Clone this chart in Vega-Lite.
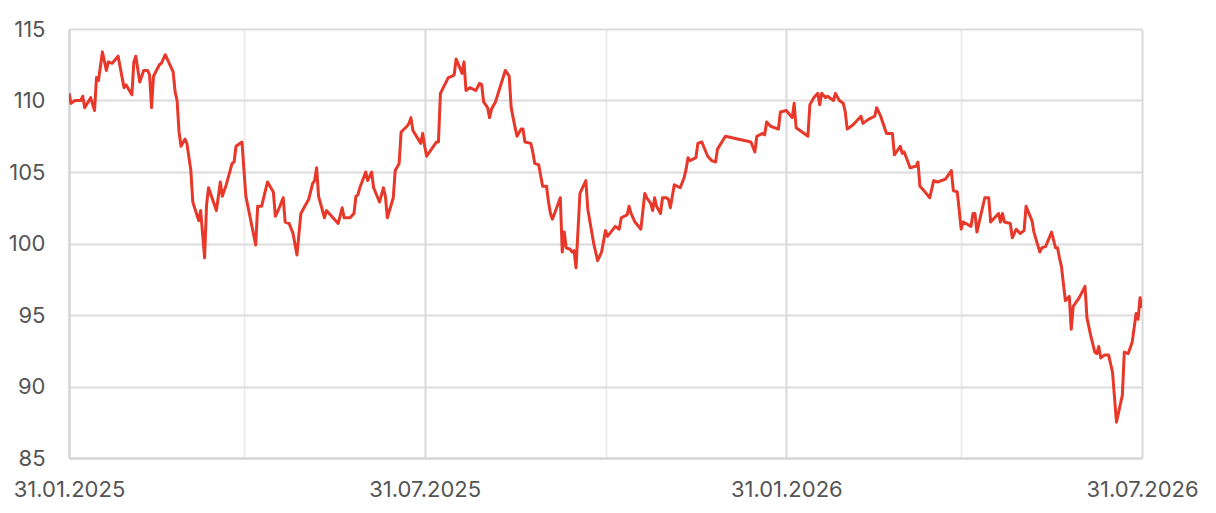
{
  "$schema": "https://vega.github.io/schema/vega-lite/v6.json",
  "width": 1073,
  "height": 429,
  "autosize": "none",
  "padding": {"left": 69, "top": 29, "right": 74, "bottom": 55},
  "background": "white",
  "config": {"view": {"stroke": null}},
  "data": {"values": [
    {"date":"2025-01-31","value":110.5},{"date":"2025-02-01","value":109.8},{"date":"2025-02-03","value":110.0},{"date":"2025-02-06","value":110.0},{"date":"2025-02-07","value":110.3},{"date":"2025-02-08","value":109.5},{"date":"2025-02-11","value":110.2},{"date":"2025-02-13","value":109.3},{"date":"2025-02-14","value":111.6},{"date":"2025-02-15","value":111.4},{"date":"2025-02-17","value":113.4},{"date":"2025-02-19","value":112.1},{"date":"2025-02-20","value":112.7},{"date":"2025-02-22","value":112.6},{"date":"2025-02-25","value":113.1},{"date":"2025-02-28","value":110.9},{"date":"2025-03-01","value":111.1},{"date":"2025-03-04","value":110.4},{"date":"2025-03-05","value":112.7},{"date":"2025-03-06","value":113.1},{"date":"2025-03-08","value":111.3},{"date":"2025-03-10","value":112.1},{"date":"2025-03-12","value":112.1},{"date":"2025-03-13","value":111.8},{"date":"2025-03-14","value":109.5},{"date":"2025-03-15","value":111.7},{"date":"2025-03-18","value":112.5},{"date":"2025-03-19","value":112.6},{"date":"2025-03-21","value":113.2},{"date":"2025-03-23","value":112.6},{"date":"2025-03-25","value":112.0},{"date":"2025-03-26","value":110.6},{"date":"2025-03-27","value":110.0},{"date":"2025-03-28","value":107.8},{"date":"2025-03-29","value":106.8},{"date":"2025-03-31","value":107.3},{"date":"2025-04-01","value":107.0},{"date":"2025-04-03","value":105.1},{"date":"2025-04-04","value":102.9},{"date":"2025-04-07","value":101.6},{"date":"2025-04-08","value":102.3},{"date":"2025-04-10","value":99.0},{"date":"2025-04-11","value":102.7},{"date":"2025-04-12","value":103.9},{"date":"2025-04-16","value":102.3},{"date":"2025-04-18","value":104.3},{"date":"2025-04-19","value":103.3},{"date":"2025-04-21","value":104.1},{"date":"2025-04-24","value":105.6},{"date":"2025-04-25","value":105.7},{"date":"2025-04-26","value":106.8},{"date":"2025-04-29","value":107.1},{"date":"2025-04-30","value":105.2},{"date":"2025-05-01","value":103.3},{"date":"2025-05-06","value":99.9},{"date":"2025-05-07","value":102.6},{"date":"2025-05-09","value":102.6},{"date":"2025-05-12","value":104.3},{"date":"2025-05-15","value":103.6},{"date":"2025-05-16","value":101.9},{"date":"2025-05-18","value":102.5},{"date":"2025-05-20","value":103.2},{"date":"2025-05-21","value":101.5},{"date":"2025-05-23","value":101.4},{"date":"2025-05-25","value":100.7},{"date":"2025-05-27","value":99.2},{"date":"2025-05-29","value":102.1},{"date":"2025-05-31","value":102.6},{"date":"2025-06-02","value":103.1},{"date":"2025-06-04","value":104.2},{"date":"2025-06-05","value":104.4},{"date":"2025-06-06","value":105.3},{"date":"2025-06-07","value":103.3},{"date":"2025-06-10","value":101.8},{"date":"2025-06-11","value":102.3},{"date":"2025-06-17","value":101.4},{"date":"2025-06-19","value":102.5},{"date":"2025-06-20","value":101.8},{"date":"2025-06-23","value":101.8},{"date":"2025-06-25","value":102.1},{"date":"2025-06-26","value":103.3},{"date":"2025-06-27","value":103.4},{"date":"2025-06-28","value":103.9},{"date":"2025-07-01","value":105.0},{"date":"2025-07-02","value":104.4},{"date":"2025-07-04","value":105.0},{"date":"2025-07-05","value":103.9},{"date":"2025-07-08","value":102.9},{"date":"2025-07-10","value":103.9},{"date":"2025-07-11","value":103.3},{"date":"2025-07-12","value":101.8},{"date":"2025-07-15","value":103.2},{"date":"2025-07-16","value":105.1},{"date":"2025-07-18","value":105.6},{"date":"2025-07-19","value":107.8},{"date":"2025-07-22","value":108.2},{"date":"2025-07-23","value":108.4},{"date":"2025-07-24","value":108.8},{"date":"2025-07-25","value":107.9},{"date":"2025-07-29","value":107.0},{"date":"2025-07-30","value":107.7},{"date":"2025-07-31","value":106.8},{"date":"2025-08-01","value":106.1},{"date":"2025-08-06","value":107.1},{"date":"2025-08-07","value":107.1},{"date":"2025-08-08","value":110.5},{"date":"2025-08-12","value":111.6},{"date":"2025-08-14","value":111.7},{"date":"2025-08-15","value":111.8},{"date":"2025-08-16","value":112.9},{"date":"2025-08-19","value":111.9},{"date":"2025-08-20","value":112.7},{"date":"2025-08-21","value":110.7},{"date":"2025-08-23","value":110.9},{"date":"2025-08-26","value":110.7},{"date":"2025-08-28","value":111.2},{"date":"2025-08-29","value":111.1},{"date":"2025-08-30","value":109.9},{"date":"2025-09-01","value":109.5},{"date":"2025-09-02","value":108.8},{"date":"2025-09-03","value":109.4},{"date":"2025-09-05","value":109.9},{"date":"2025-09-10","value":112.1},{"date":"2025-09-12","value":111.7},{"date":"2025-09-13","value":109.5},{"date":"2025-09-15","value":108.1},{"date":"2025-09-16","value":107.5},{"date":"2025-09-18","value":108.0},{"date":"2025-09-19","value":108.0},{"date":"2025-09-20","value":107.1},{"date":"2025-09-23","value":107.0},{"date":"2025-09-24","value":106.4},{"date":"2025-09-25","value":105.6},{"date":"2025-09-27","value":105.5},{"date":"2025-09-29","value":104.0},{"date":"2025-10-01","value":104.0},{"date":"2025-10-02","value":102.9},{"date":"2025-10-03","value":102.1},{"date":"2025-10-04","value":101.7},{"date":"2025-10-08","value":103.2},{"date":"2025-10-09","value":99.4},{"date":"2025-10-10","value":100.8},{"date":"2025-10-11","value":99.7},{"date":"2025-10-13","value":99.6},{"date":"2025-10-14","value":99.4},{"date":"2025-10-15","value":99.5},{"date":"2025-10-16","value":98.3},{"date":"2025-10-18","value":103.5},{"date":"2025-10-21","value":104.4},{"date":"2025-10-22","value":102.4},{"date":"2025-10-25","value":100.0},{"date":"2025-10-27","value":98.8},{"date":"2025-10-29","value":99.4},{"date":"2025-10-31","value":100.9},{"date":"2025-11-01","value":100.5},{"date":"2025-11-05","value":101.2},{"date":"2025-11-07","value":101.0},{"date":"2025-11-08","value":101.8},{"date":"2025-11-11","value":102.0},{"date":"2025-11-12","value":102.6},{"date":"2025-11-13","value":102.1},{"date":"2025-11-15","value":101.5},{"date":"2025-11-18","value":101.0},{"date":"2025-11-20","value":103.5},{"date":"2025-11-21","value":103.2},{"date":"2025-11-23","value":102.8},{"date":"2025-11-24","value":102.3},{"date":"2025-11-25","value":103.2},{"date":"2025-11-26","value":102.6},{"date":"2025-11-28","value":102.1},{"date":"2025-11-29","value":103.2},{"date":"2025-12-01","value":103.2},{"date":"2025-12-02","value":103.1},{"date":"2025-12-03","value":102.5},{"date":"2025-12-05","value":104.1},{"date":"2025-12-08","value":103.9},{"date":"2025-12-10","value":104.6},{"date":"2025-12-11","value":105.2},{"date":"2025-12-12","value":106.0},{"date":"2025-12-13","value":105.8},{"date":"2025-12-16","value":106.0},{"date":"2025-12-17","value":107.0},{"date":"2025-12-19","value":107.1},{"date":"2025-12-22","value":106.1},{"date":"2025-12-24","value":105.8},{"date":"2025-12-26","value":105.7},{"date":"2025-12-27","value":106.6},{"date":"2025-12-31","value":107.5},{"date":"2026-01-13","value":107.1},{"date":"2026-01-15","value":106.4},{"date":"2026-01-16","value":107.5},{"date":"2026-01-19","value":107.7},{"date":"2026-01-20","value":107.6},{"date":"2026-01-21","value":108.5},{"date":"2026-01-23","value":108.2},{"date":"2026-01-27","value":108.0},{"date":"2026-01-28","value":109.2},{"date":"2026-01-31","value":109.3},{"date":"2026-02-03","value":108.8},{"date":"2026-02-04","value":109.8},{"date":"2026-02-05","value":108.1},{"date":"2026-02-07","value":107.9},{"date":"2026-02-11","value":107.5},{"date":"2026-02-12","value":109.7},{"date":"2026-02-14","value":110.2},{"date":"2026-02-16","value":110.5},{"date":"2026-02-17","value":109.7},{"date":"2026-02-18","value":110.5},{"date":"2026-02-20","value":110.2},{"date":"2026-02-21","value":110.3},{"date":"2026-02-24","value":110.0},{"date":"2026-02-25","value":110.5},{"date":"2026-02-27","value":110.0},{"date":"2026-03-01","value":109.8},{"date":"2026-03-02","value":109.2},{"date":"2026-03-03","value":108.0},{"date":"2026-03-05","value":108.2},{"date":"2026-03-06","value":108.3},{"date":"2026-03-10","value":108.9},{"date":"2026-03-11","value":108.4},{"date":"2026-03-14","value":108.7},{"date":"2026-03-17","value":108.9},{"date":"2026-03-18","value":109.5},{"date":"2026-03-20","value":108.9},{"date":"2026-03-23","value":107.7},{"date":"2026-03-26","value":107.7},{"date":"2026-03-27","value":106.2},{"date":"2026-03-30","value":106.8},{"date":"2026-03-31","value":106.3},{"date":"2026-04-01","value":106.4},{"date":"2026-04-04","value":105.3},{"date":"2026-04-07","value":105.4},{"date":"2026-04-08","value":105.7},{"date":"2026-04-09","value":104.0},{"date":"2026-04-11","value":103.7},{"date":"2026-04-14","value":103.2},{"date":"2026-04-16","value":104.4},{"date":"2026-04-18","value":104.3},{"date":"2026-04-22","value":104.5},{"date":"2026-04-25","value":105.1},{"date":"2026-04-26","value":103.7},{"date":"2026-04-28","value":103.6},{"date":"2026-04-30","value":101.0},{"date":"2026-05-01","value":101.5},{"date":"2026-05-05","value":101.2},{"date":"2026-05-06","value":102.1},{"date":"2026-05-07","value":102.1},{"date":"2026-05-08","value":100.8},{"date":"2026-05-12","value":103.2},{"date":"2026-05-14","value":103.2},{"date":"2026-05-15","value":101.5},{"date":"2026-05-19","value":102.1},{"date":"2026-05-20","value":101.5},{"date":"2026-05-21","value":102.1},{"date":"2026-05-22","value":101.5},{"date":"2026-05-25","value":101.4},{"date":"2026-05-26","value":100.4},{"date":"2026-05-28","value":101.0},{"date":"2026-05-30","value":100.7},{"date":"2026-06-01","value":100.9},{"date":"2026-06-02","value":102.6},{"date":"2026-06-05","value":101.6},{"date":"2026-06-06","value":100.8},{"date":"2026-06-09","value":99.4},{"date":"2026-06-10","value":99.7},{"date":"2026-06-12","value":99.8},{"date":"2026-06-15","value":100.8},{"date":"2026-06-17","value":99.7},{"date":"2026-06-18","value":99.7},{"date":"2026-06-19","value":99.0},{"date":"2026-06-20","value":98.4},{"date":"2026-06-22","value":96.0},{"date":"2026-06-24","value":96.3},{"date":"2026-06-25","value":94.0},{"date":"2026-06-26","value":95.6},{"date":"2026-06-29","value":96.2},{"date":"2026-07-02","value":97.0},{"date":"2026-07-03","value":94.8},{"date":"2026-07-05","value":93.5},{"date":"2026-07-07","value":92.4},{"date":"2026-07-08","value":92.3},{"date":"2026-07-09","value":92.8},{"date":"2026-07-10","value":92.0},{"date":"2026-07-12","value":92.2},{"date":"2026-07-14","value":92.2},{"date":"2026-07-16","value":91.0},{"date":"2026-07-18","value":87.5},{"date":"2026-07-21","value":89.4},{"date":"2026-07-22","value":92.4},{"date":"2026-07-24","value":92.3},{"date":"2026-07-26","value":93.1},{"date":"2026-07-28","value":95.1},{"date":"2026-07-29","value":94.7},{"date":"2026-07-30","value":96.2},{"date":"2026-07-31","value":95.5}
  ]},
  "mark": {"type": "line", "color": "#e8382a", "strokeWidth": 3, "strokeJoin": "round", "clip": true},
  "encoding": {
    "x": {
      "field": "date",
      "type": "temporal",
      "scale": {"type": "utc", "domain": [{"year": 2025, "month": 1, "date": 31, "utc": true}, {"year": 2026, "month": 7, "date": 31, "utc": true}], "nice": false},
      "axis": {
        "title": null,
        "values": [
          {"year": 2025, "month": 1, "date": 31, "utc": true},
          {"year": 2025, "month": 4, "date": 30, "utc": true},
          {"year": 2025, "month": 7, "date": 31, "utc": true},
          {"year": 2025, "month": 10, "date": 31, "utc": true},
          {"year": 2026, "month": 1, "date": 31, "utc": true},
          {"year": 2026, "month": 4, "date": 30, "utc": true},
          {"year": 2026, "month": 7, "date": 31, "utc": true}
        ],
        "labelExpr": "(utcmonth(datum.value) == 0 || utcmonth(datum.value) == 6) ? utcFormat(datum.value, '%d.%m.%Y') : ''",
        "ticks": false,
        "labelPadding": 21,
        "labelFont": "Inter",
        "labelFontSize": 22,
        "labelColor": "#555555",
        "labelOverlap": false,
        "labelFlush": false,
        "grid": true,
        "gridWidth": 2,
        "gridColor": {"condition": {"test": "utcmonth(datum.value) == 0 || utcmonth(datum.value) == 6", "value": "#d9d9d9"}, "value": "#eeeeee"},
        "domain": true,
        "domainColor": "#d4d4d4",
        "domainWidth": 2
      }
    },
    "y": {
      "field": "value",
      "type": "quantitative",
      "scale": {"domain": [85, 115], "nice": false, "zero": false},
      "axis": {
        "title": null,
        "values": [85, 90, 95, 100, 105, 110, 115],
        "ticks": false,
        "labelPadding": 24,
        "labelFont": "Inter",
        "labelFontSize": 22,
        "labelColor": "#555555",
        "grid": true,
        "gridColor": "#dcdcdc",
        "gridWidth": 2,
        "domain": true,
        "domainColor": "#d4d4d4",
        "domainWidth": 2
      }
    }
  }
}
